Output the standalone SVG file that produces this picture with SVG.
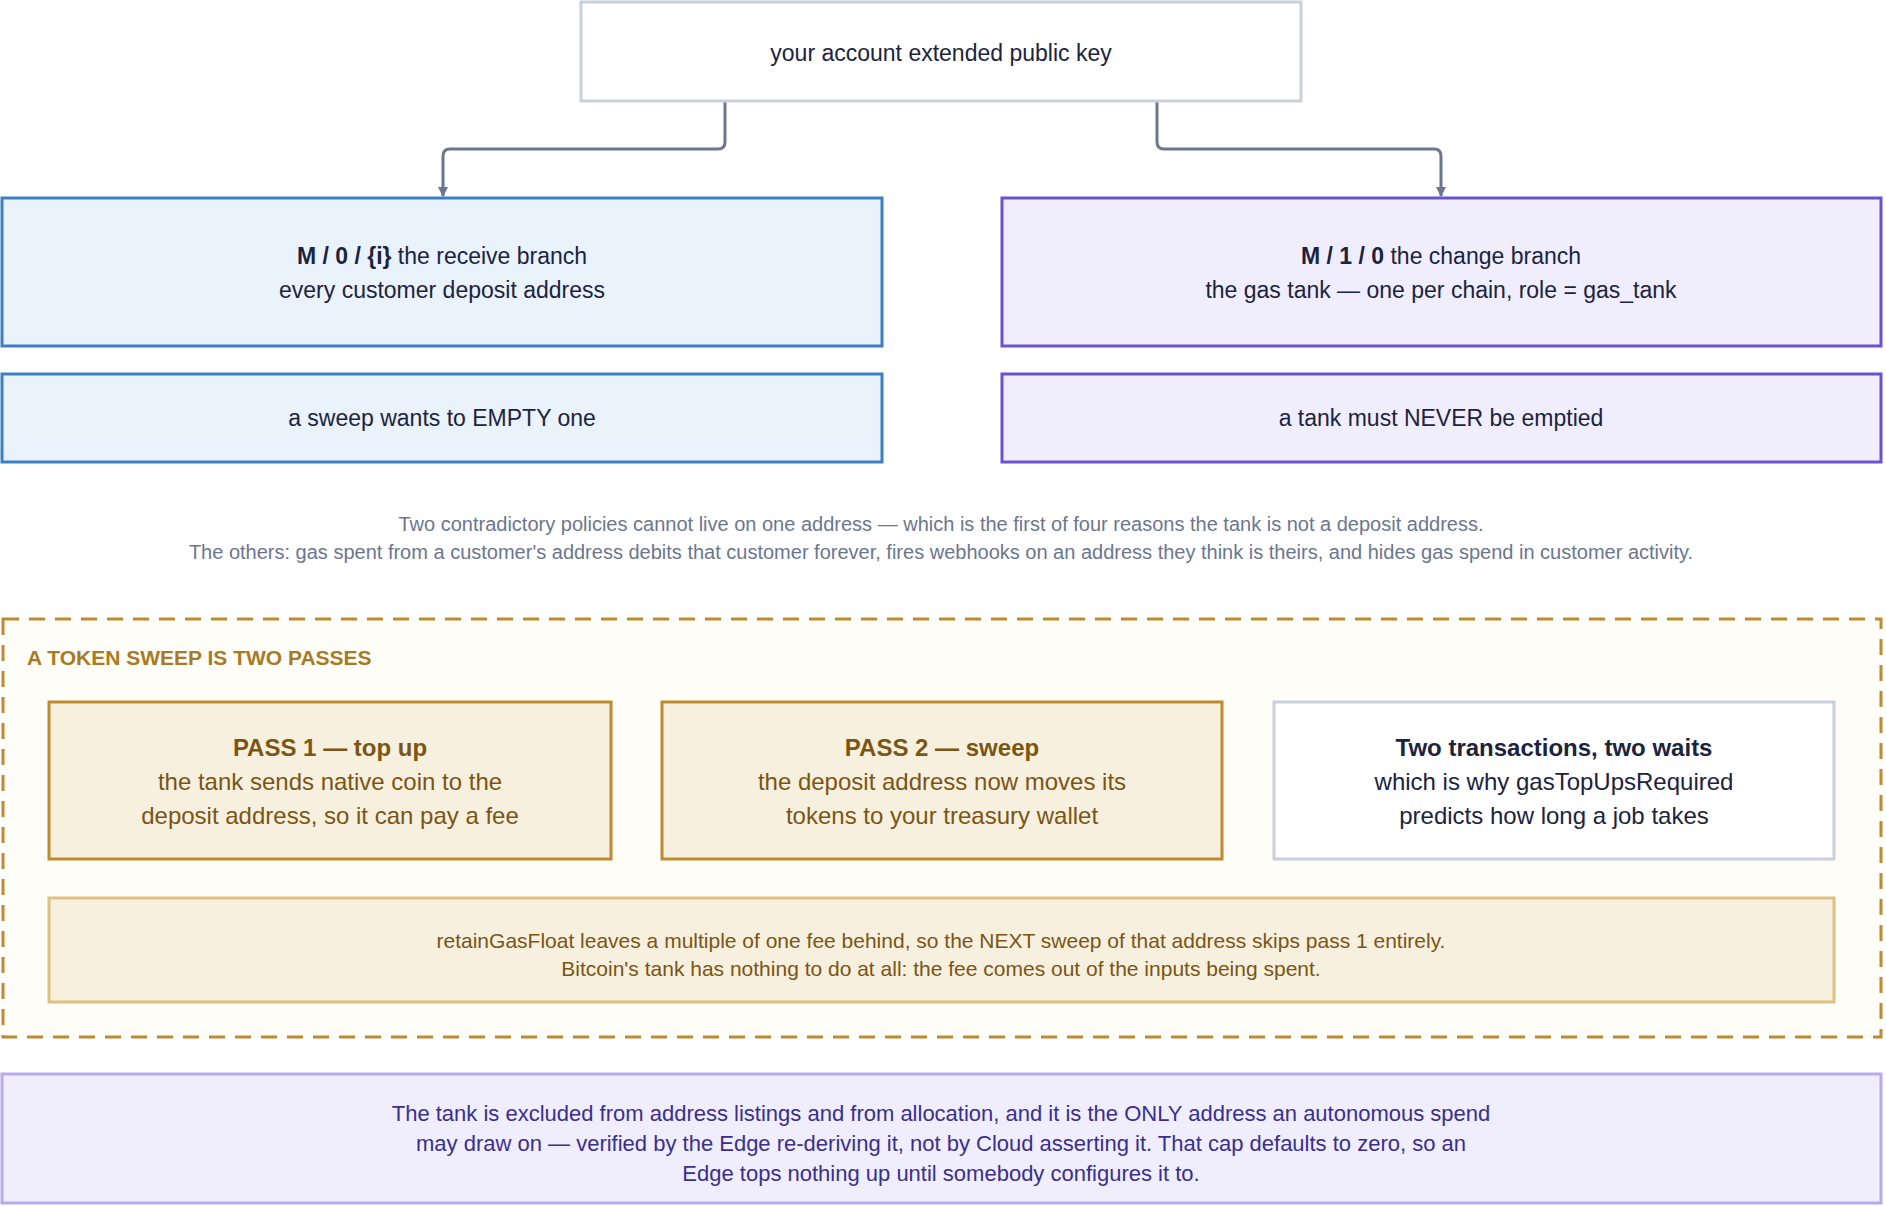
<svg xmlns="http://www.w3.org/2000/svg" width="1886" height="1206" viewBox="0 0 1886 1206">
<defs>
<style>
text{font-family:"Liberation Sans",Arial,sans-serif;text-anchor:middle}
.n{font-size:23px;fill:#1c2340}
.b{font-weight:bold}
.g{font-size:24px;fill:#7a5514}
.note{font-size:20px;fill:#6b7690}
.conn{fill:none;stroke:#6b7690;stroke-width:3}
</style>
<marker id="ah" markerWidth="10" markerHeight="10" refX="9" refY="5" orient="auto" markerUnits="userSpaceOnUse" viewBox="0 0 10 10"><path d="M0,0L10,5L0,10z" fill="#6b7690"/></marker>
<marker id="ag" markerWidth="24" markerHeight="16" refX="22" refY="8" orient="auto" markerUnits="userSpaceOnUse" viewBox="0 0 24 16"><path d="M0,0L24,8L0,16z" fill="#c08a30"/></marker>
</defs>
<rect width="1886" height="1206" fill="#fff"/>
<g id="connectors">
<path class="conn" d="M725,101V142Q725,149 718,149H450Q443,149 443,156V196" marker-end="url(#ah)" style="stroke-width:3"/>
<path class="conn" d="M1157,101V142Q1157,149 1164,149H1434Q1441,149 1441,156V196" marker-end="url(#ah)"/>
<path d="M611,780H660" stroke="#c08a30" stroke-width="4" marker-end="url(#ag)"/>
<path d="M1222,780H1272" stroke="#c08a30" stroke-width="4" marker-end="url(#ag)"/>
</g>
<g id="xpub"><rect x="581" y="2" width="720" height="99" fill="#fff" stroke="#c9d0dc" stroke-width="3"/><text class="n" x="941" y="61">your account extended public key</text></g>
<g id="receive"><rect x="2" y="198" width="880" height="148" fill="#eaf2fb" stroke="#3b7fc4" stroke-width="3"/><text class="n" x="442" y="264"><tspan class="b">M / 0 / {i}</tspan> the receive branch</text><text class="n" x="442" y="298">every customer deposit address</text></g>
<g id="change"><rect x="1002" y="198" width="879" height="148" fill="#f0eefc" stroke="#6a52cc" stroke-width="3"/><text class="n" x="1441" y="264"><tspan class="b">M / 1 / 0</tspan> the change branch</text><text class="n" x="1441" y="298">the gas tank — one per chain, role = gas_tank</text></g>
<g id="empty"><rect x="2" y="374" width="880" height="88" fill="#eaf2fb" stroke="#3b7fc4" stroke-width="3"/><text class="n" x="442" y="426">a sweep wants to EMPTY one</text></g>
<g id="never"><rect x="1002" y="374" width="879" height="88" fill="#f0eefc" stroke="#6a52cc" stroke-width="3"/><text class="n" x="1441" y="426">a tank must NEVER be emptied</text></g>
<g id="note"><text class="note" x="941" y="531">Two contradictory policies cannot live on one address — which is the first of four reasons the tank is not a deposit address.</text><text class="note" x="941" y="559">The others: gas spent from a customer's address debits that customer forever, fires webhooks on an address they think is theirs, and hides gas spend in customer activity.</text></g>
<g id="sweep"><rect x="3" y="619" width="1878" height="418" fill="#fffdf7" stroke="#c08a30" stroke-width="3" stroke-dasharray="16,10"/><text x="27" y="665" style="text-anchor:start;font-size:21px;font-weight:bold;fill:#a87a24">A TOKEN SWEEP IS TWO PASSES</text></g>
<g id="pass1"><rect x="49" y="702" width="562" height="157" fill="#f8f0df" stroke="#c08a30" stroke-width="3"/><text class="g b" x="330" y="756">PASS 1 — top up</text><text class="g" x="330" y="790">the tank sends native coin to the</text><text class="g" x="330" y="824">deposit address, so it can pay a fee</text></g>
<g id="pass2"><rect x="662" y="702" width="560" height="157" fill="#f8f0df" stroke="#c08a30" stroke-width="3"/><text class="g b" x="942" y="756">PASS 2 — sweep</text><text class="g" x="942" y="790">the deposit address now moves its</text><text class="g" x="942" y="824">tokens to your treasury wallet</text></g>
<g id="waits"><rect x="1274" y="702" width="560" height="157" fill="#fff" stroke="#c9d0dc" stroke-width="3"/><text class="n b" x="1554" y="756" style="font-size:24px">Two transactions, two waits</text><text class="n" x="1554" y="790" style="font-size:24px">which is why gasTopUpsRequired</text><text class="n" x="1554" y="824" style="font-size:24px">predicts how long a job takes</text></g>
<g id="float"><rect x="49" y="898" width="1785" height="104" fill="#f8f0df" stroke="#dfc081" stroke-width="3"/><text x="941" y="948" style="font-size:21px;fill:#7a5514">retainGasFloat leaves a multiple of one fee behind, so the NEXT sweep of that address skips pass 1 entirely.</text><text x="941" y="976" style="font-size:21px;fill:#7a5514">Bitcoin's tank has nothing to do at all: the fee comes out of the inputs being spent.</text></g>
<g id="cap"><rect x="2" y="1074" width="1879" height="129" fill="#f0eefc" stroke="#b7aaee" stroke-width="3"/><text x="941" y="1121" style="font-size:22px;fill:#3a2f8f">The tank is excluded from address listings and from allocation, and it is the ONLY address an autonomous spend</text><text x="941" y="1151" style="font-size:22px;fill:#3a2f8f">may draw on — verified by the Edge re-deriving it, not by Cloud asserting it. That cap defaults to zero, so an</text><text x="941" y="1181" style="font-size:22px;fill:#3a2f8f">Edge tops nothing up until somebody configures it to.</text></g>
</svg>
